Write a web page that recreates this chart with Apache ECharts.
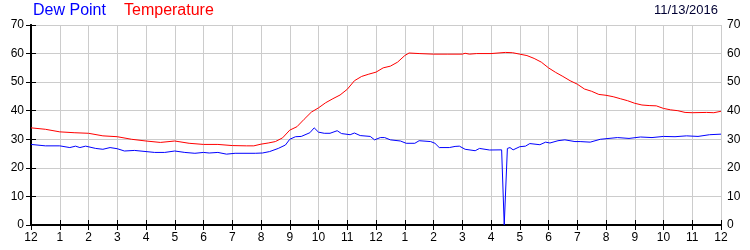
<!DOCTYPE html>
<html>
<head>
<meta charset="utf-8">
<script src="https://cdn.jsdelivr.net/npm/echarts@6/dist/echarts.min.js"></script>
<style>
html,body{margin:0;padding:0;background:#fff;}
#chart{width:750px;height:250px;}
</style>
</head>
<body>
<div id="chart"></div>
<script>
// Hours since midnight (0..24) and readings
var tempTimes = [0,0.5,1,1.5,2,2.5,3,3.5,4,4.5,5,5.5,6,6.5,7,7.5,7.75,8,8.25,8.5,8.75,9,9.25,9.5,9.75,10,10.25,10.5,10.75,11,11.25,11.5,11.75,12,12.25,12.5,12.75,13,13.15,13.5,14,14.5,15,15.1,15.25,15.5,16,16.5,16.75,17,17.25,17.5,17.75,18,18.25,18.5,18.75,19,19.25,19.5,19.75,20,20.25,20.5,20.75,21,21.25,21.5,21.75,22,22.25,22.5,22.75,23,23.5,23.75,24];
var tempVals  = [34.0,33.5,32.6,32.3,32.1,31.2,30.9,30.0,29.4,28.9,29.4,28.6,28.2,28.2,27.8,27.7,27.7,28.3,28.7,29.2,30.5,33.2,34.4,37.0,39.5,41.0,42.8,44.2,45.5,47.5,50.5,52.0,52.8,53.5,55.0,55.6,57.0,59.3,60.2,60.0,59.8,59.8,59.8,60.1,59.8,60.0,60.0,60.4,60.3,59.8,59.3,58.3,57.0,55.0,53.4,52.0,50.5,49.3,47.6,46.8,45.7,45.4,44.9,44.2,43.5,42.6,42.0,41.8,41.7,40.8,40.3,40.0,39.4,39.3,39.4,39.3,39.8];

var dewTimes = [0,0.5,1,1.35,1.55,1.7,1.9,2.25,2.5,2.75,3,3.25,3.6,4,4.3,4.65,5,5.35,5.7,6,6.2,6.5,6.8,7.1,7.8,8.05,8.3,8.6,8.85,9,9.2,9.4,9.7,9.85,10,10.2,10.4,10.65,10.8,11.1,11.25,11.45,11.8,11.95,12.15,12.3,12.5,12.85,13.05,13.35,13.5,13.9,14.05,14.2,14.55,14.75,14.9,15.1,15.45,15.6,15.95,16.37,16.46,16.57,16.66,16.77,17,17.2,17.35,17.7,17.9,18.05,18.33,18.57,18.92,19.1,19.45,19.8,20,20.4,20.8,21.2,21.6,22,22.4,22.8,23.2,23.6,24];
var dewVals  = [28.2,27.7,27.7,27.1,27.6,27.1,27.6,26.8,26.5,27.1,26.7,25.9,26.1,25.7,25.4,25.4,25.9,25.4,25.1,25.4,25.2,25.4,24.8,25.1,25.1,25.2,25.7,26.8,28.0,30.0,30.9,31.0,32.3,34.0,32.5,32.1,32.1,33.0,32.0,31.6,32.2,31.3,31.0,29.8,30.6,30.6,29.8,29.4,28.6,28.6,29.5,29.2,28.6,27.1,27.1,27.5,27.6,26.5,26.0,26.8,26.25,26.3,0,26.8,27.1,26.3,27.4,27.6,28.5,28.1,29.0,28.7,29.5,29.8,29.2,29.2,29.0,30.0,30.2,30.6,30.3,30.8,30.6,31.0,30.9,31.2,31.0,31.6,31.8];

var yTicks = [0,10,20,30,40,50,60,70];
var hourLabels = ['12','1','2','3','4','5','6','7','8','9','10','11','12','1','2','3','4','5','6','7','8','9','10','11','12'];

var legendDew = 'Dew Point';
var legendTemp = 'Temperature';
var dateText = '11/13/2016';

function pairs(t, v){ return t.map(function(x,i){ return [x, v[i]]; }); }

var font = 'Arial, "Liberation Sans", sans-serif';
var axisLine = {show:true, lineStyle:{color:'#000', width:2}};
var tick = {show:true, inside:true, length:5, lineStyle:{color:'#000', width:1}};

var chart = echarts.init(document.getElementById('chart'), null, {renderer:'canvas'});
chart.setOption({
  animation:false,
  backgroundColor:'#fff',
  title:[
    {text:legendDew, left:33, top:3, padding:0, textStyle:{color:'#0000ff', fontSize:16, fontWeight:'normal', fontFamily:font}},
    {text:legendTemp, left:124, top:3, padding:0, textStyle:{color:'#ff0000', fontSize:16, fontWeight:'normal', fontFamily:font}},
    {text:dateText, right:32, top:4, padding:0, textStyle:{color:'#000033', fontSize:13, fontWeight:'normal', fontFamily:font}}
  ],
  grid:{left:31, right:29, top:25, bottom:25, containLabel:false},
  xAxis:[
    {type:'value', min:0, max:24, interval:1, position:'bottom',
     axisLine:axisLine, axisTick:tick,
     axisLabel:{color:'#000', fontSize:12, fontFamily:font, margin:7,
       formatter:function(v){ return hourLabels[Math.round(v)]; }},
     splitLine:{show:true, lineStyle:{color:'#cccccc', width:1}}},
    {type:'value', min:0, max:24, interval:1, position:'top',
     axisLine:axisLine, axisTick:tick, axisLabel:{show:false}, splitLine:{show:false}}
  ],
  yAxis:[
    {type:'value', min:yTicks[0], max:yTicks[yTicks.length-1], interval:10, position:'left',
     axisLine:axisLine, axisTick:tick,
     axisLabel:{color:'#000', fontSize:12, fontFamily:font, margin:7},
     splitLine:{show:true, lineStyle:{color:'#cccccc', width:1}}},
    {type:'value', min:yTicks[0], max:yTicks[yTicks.length-1], interval:10, position:'right',
     axisLine:axisLine, axisTick:tick,
     axisLabel:{color:'#000', fontSize:12, fontFamily:font, margin:6},
     splitLine:{show:false}}
  ],
  series:[
    {name:legendTemp, type:'line', xAxisIndex:0, yAxisIndex:0, data:pairs(tempTimes,tempVals),
     showSymbol:false, lineStyle:{color:'#ff0000', width:1}, itemStyle:{color:'#ff0000'}, z:3},
    {name:legendDew, type:'line', xAxisIndex:0, yAxisIndex:0, data:pairs(dewTimes,dewVals),
     showSymbol:false, lineStyle:{color:'#0000ff', width:1}, itemStyle:{color:'#0000ff'}, z:4}
  ]
});
</script>
</body>
</html>
